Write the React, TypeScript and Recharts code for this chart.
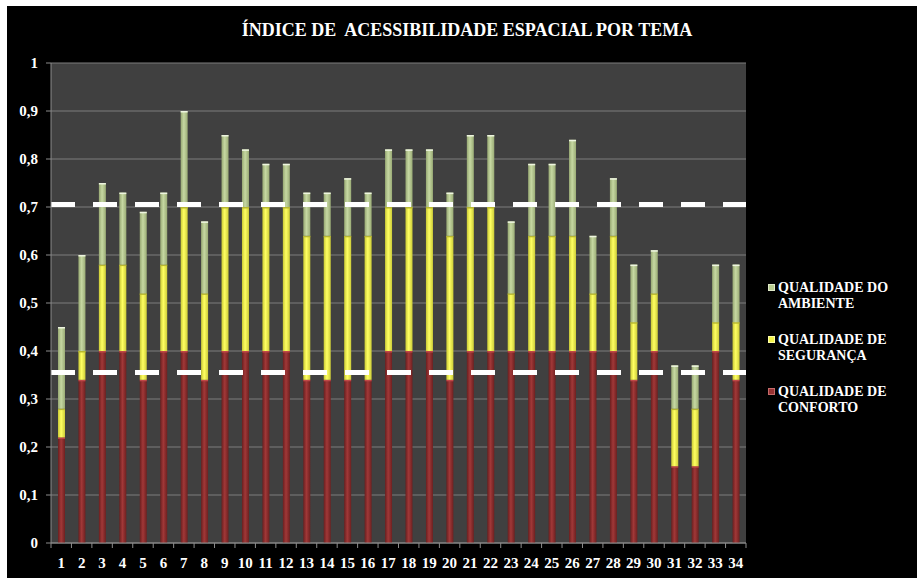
import { BarChart, Bar, XAxis, YAxis, CartesianGrid, ReferenceLine } from 'recharts';

const temas = [
  '1', '2', '3', '4', '5', '6', '7', '8', '9', '10', '11', '12', '13', '14', '15', '16', '17',
  '18', '19', '20', '21', '22', '23', '24', '25', '26', '27', '28', '29', '30', '31', '32', '33', '34',
];

// stacked from the bottom: conforto (red), segurança (yellow), ambiente (green)
const conforto = [
  0.22, 0.34, 0.4, 0.4, 0.34, 0.4, 0.4, 0.34, 0.4, 0.4, 0.4, 0.4, 0.34, 0.34, 0.34, 0.34, 0.4,
  0.4, 0.4, 0.34, 0.4, 0.4, 0.4, 0.4, 0.4, 0.4, 0.4, 0.4, 0.34, 0.4, 0.16, 0.16, 0.4, 0.34,
];
const seguranca = [
  0.06, 0.06, 0.18, 0.18, 0.18, 0.18, 0.3, 0.18, 0.3, 0.3, 0.3, 0.3, 0.3, 0.3, 0.3, 0.3, 0.3,
  0.3, 0.3, 0.3, 0.3, 0.3, 0.12, 0.24, 0.24, 0.24, 0.12, 0.24, 0.12, 0.12, 0.12, 0.12, 0.06, 0.12,
];
const ambiente = [
  0.17, 0.2, 0.17, 0.15, 0.17, 0.15, 0.2, 0.15, 0.15, 0.12, 0.09, 0.09, 0.09, 0.09, 0.12, 0.09, 0.12,
  0.12, 0.12, 0.09, 0.15, 0.15, 0.15, 0.15, 0.15, 0.2, 0.12, 0.12, 0.12, 0.09, 0.09, 0.09, 0.12, 0.12,
];

const yTicks = [0, 0.1, 0.2, 0.3, 0.4, 0.5, 0.6, 0.7, 0.8, 0.9, 1];
const limites = [0.705, 0.355];

const legenda = [
  { linhas: ['QUALIDADE DO', 'AMBIENTE'], cor: '#b8cc8f', borda: '#dfe9c8' },
  { linhas: ['QUALIDADE DE', 'SEGURANÇA'], cor: '#f2f24a', borda: '#ffffa8' },
  { linhas: ['QUALIDADE DE', 'CONFORTO'], cor: '#973232', borda: '#c46a6a' },
];

const data = temas.map((tema, i) => ({
  tema,
  conforto: conforto[i],
  seguranca: seguranca[i],
  ambiente: ambiente[i],
}));

const serif = '"Liberation Serif", "Times New Roman", serif';

const cilindro = (grad: string, topo: string) => (props: any) => {
  const { x, y, width, height } = props;
  if (!height || height <= 0) return null;
  return (
    <g>
      <rect x={x} y={y} width={width} height={height} fill={`url(#${grad})`} />
      <rect x={x} y={y} width={width} height={1.5} fill={topo} />
    </g>
  );
};

const TickX = (props: any) => {
  const { x, y, payload, index } = props;
  const half = payload && payload.offset ? payload.offset : 10.2;
  return (
    <g>
      <line x1={x - half} y1={y} x2={x - half} y2={y + 5} stroke="#8c8c8c" />
      {index === temas.length - 1 && (
        <line x1={x + half} y1={y} x2={x + half} y2={y + 5} stroke="#8c8c8c" />
      )}
      <text
        x={x}
        y={y + 20}
        textAnchor="middle"
        dominantBaseline="central"
        fill="#fff"
        fontWeight="bold"
        fontSize={15}
        fontFamily={serif}
      >
        {payload.value}
      </text>
    </g>
  );
};

export default function App() {
  return (
    <div
      style={{
        position: 'absolute',
        left: 7,
        top: 6,
        width: 910,
        height: 572,
        background: '#000',
        fontFamily: serif,
      }}
    >
      <div
        style={{
          position: 'absolute',
          left: 460,
          top: 13,
          transform: 'translateX(-50%)',
          whiteSpace: 'pre',
          color: '#fff',
          fontWeight: 'bold',
          fontSize: 18,
          lineHeight: '22px',
        }}
      >
        ÍNDICE DE  ACESSIBILIDADE ESPACIAL POR TEMA
      </div>

      <BarChart
        width={910}
        height={572}
        data={data}
        margin={{ top: 57, right: 171, bottom: 5, left: 8 }}
      >
        <defs>
          <linearGradient id="gVerm" x1="0" y1="0" x2="1" y2="0">
            <stop offset="0%" stopColor="#6a1f1f" />
            <stop offset="45%" stopColor="#a13838" />
            <stop offset="100%" stopColor="#6e2020" />
          </linearGradient>
          <linearGradient id="gAmar" x1="0" y1="0" x2="1" y2="0">
            <stop offset="0%" stopColor="#c9c935" />
            <stop offset="45%" stopColor="#ffff62" />
            <stop offset="100%" stopColor="#cccc38" />
          </linearGradient>
          <linearGradient id="gVerd" x1="0" y1="0" x2="1" y2="0">
            <stop offset="0%" stopColor="#97a873" />
            <stop offset="45%" stopColor="#c6d8a2" />
            <stop offset="100%" stopColor="#9aab76" />
          </linearGradient>
        </defs>
        <CartesianGrid vertical={false} stroke="#7c7c7c" fill="#404040" />
        <XAxis
          dataKey="tema"
          interval={0}
          height={30}
          tickSize={0}
          tickMargin={0}
          tickLine={false}
          axisLine={{ stroke: '#8c8c8c' }}
          tick={<TickX />}
        />
        <YAxis
          width={36}
          domain={[0, 1]}
          ticks={yTicks}
          tickSize={5}
          tickMargin={8}
          axisLine={{ stroke: '#8c8c8c' }}
          tickLine={{ stroke: '#8c8c8c' }}
          tick={{ fill: '#fff', fontWeight: 'bold', fontSize: 15, fontFamily: serif }}
          tickFormatter={(v: number) => String(v).replace('.', ',')}
        />
        <Bar dataKey="conforto" stackId="a" barSize={7} isAnimationActive={false} shape={cilindro('gVerm', '#c04848')} />
        <Bar dataKey="seguranca" stackId="a" barSize={7} isAnimationActive={false} shape={cilindro('gAmar', '#b8b830')} />
        <Bar dataKey="ambiente" stackId="a" barSize={7} isAnimationActive={false} shape={cilindro('gVerd', '#eef5e0')} />
        {limites.map((v) => (
          <ReferenceLine key={v} y={v} stroke="#fff" strokeWidth={5} strokeDasharray="24 18" />
        ))}
      </BarChart>

      <div style={{ position: 'absolute', left: 761, top: 274 }}>
        {legenda.map((item) => (
          <div key={item.linhas[1]} style={{ display: 'flex', alignItems: 'flex-start', height: 52 }}>
            <div
              style={{
                width: 5,
                height: 5,
                marginTop: 4,
                marginRight: 3,
                background: item.cor,
                border: `1px solid ${item.borda}`,
              }}
            />
            <div style={{ color: '#fff', fontWeight: 'bold', fontSize: 14, lineHeight: '16px' }}>
              {item.linhas.map((l) => (
                <div key={l}>{l}</div>
              ))}
            </div>
          </div>
        ))}
      </div>
    </div>
  );
}
